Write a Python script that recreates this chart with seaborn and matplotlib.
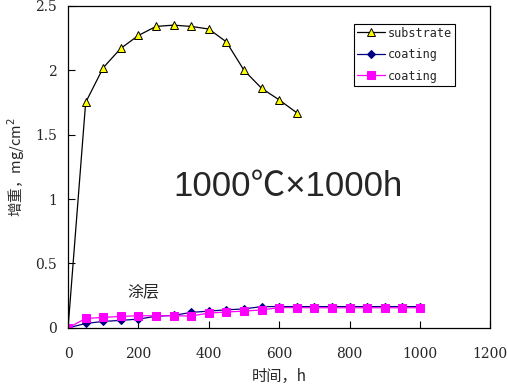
import pandas as pd
import numpy as np
import matplotlib
matplotlib.use("Agg")
import matplotlib.pyplot as plt
import seaborn as sns

# data
t_sub = [0, 50, 100, 150, 200, 250, 300, 350, 400, 450, 500, 550, 600, 650]
w_sub = [0, 1.75, 2.02, 2.17, 2.27, 2.34, 2.35, 2.34, 2.32, 2.22, 2.0, 1.86, 1.77, 1.67]

t_coat = [0, 50, 100, 150, 200, 250, 300, 350, 400, 450, 500, 550, 600, 650, 700,
          750, 800, 850, 900, 950, 1000]
w_coat1 = [0, 0.034, 0.05, 0.058, 0.068, 0.09, 0.097, 0.12, 0.13, 0.14, 0.147, 0.165,
           0.165, 0.165, 0.165, 0.165, 0.165, 0.165, 0.165, 0.165, 0.165]
w_coat2 = [0, 0.073, 0.081, 0.089, 0.094, 0.094, 0.094, 0.092, 0.115, 0.123, 0.13, 0.139,
           0.157, 0.157, 0.156, 0.156, 0.156, 0.156, 0.156, 0.156, 0.156]

x_ticks = [0, 200, 400, 600, 800, 1000, 1200]
y_ticks = [0, 0.5, 1, 1.5, 2, 2.5]
y_ticklabels = ["0", "0.5", "1", "1.5", "2", "2.5"]

sns.set_style("white")
plt.rcParams['font.family'] = ['Noto Sans CJK SC', 'DejaVu Sans']

fig = plt.figure(figsize=(5.08, 3.88), dpi=100)
ax = fig.add_axes([0.134, 0.155, 0.831, 0.830])

sns.lineplot(x=t_sub, y=w_sub, ax=ax, color="black", lw=0.9, marker="^",
             markersize=6, markerfacecolor="#ffff00", markeredgecolor="black",
             markeredgewidth=0.7, label="substrate")
sns.lineplot(x=t_coat, y=w_coat1, ax=ax, color="#000080", lw=0.9, marker="D",
             markersize=4.5, markerfacecolor="#000080", markeredgecolor="#000080",
             label="coating")
sns.lineplot(x=t_coat, y=w_coat2, ax=ax, color="#ff00ff", lw=0.9, marker="s",
             markersize=5.5, markerfacecolor="#ff00ff", markeredgecolor="#ff00ff",
             label="coating")

ax.set_xlim(0, 1200)
ax.set_ylim(0, 2.5)
ax.set_xticks(x_ticks)
ax.set_xticklabels([str(v) for v in x_ticks], family="DejaVu Serif", fontsize=10)
ax.set_yticks(y_ticks)
ax.set_yticklabels(y_ticklabels, family="DejaVu Serif", fontsize=10)
ax.tick_params(axis="both", direction="in", length=5, width=0.8, color="black",
               bottom=True, left=True, top=False, right=False)
ax.tick_params(axis="x", pad=14)
ax.tick_params(axis="y", pad=8)

for s in ax.spines.values():
    s.set_color("black")
    s.set_linewidth(0.9)

ax.set_xlabel("时间，h", fontsize=11, labelpad=5)
ax.set_ylabel("增重，mg/cm$^2$", fontsize=10.5, labelpad=6)

ax.text(625, 1.1, "1000℃×1000h", fontsize=25, ha="center", va="center",
        family=["Liberation Sans", "Noto Sans CJK SC"])
ax.text(215, 0.28, "涂层", fontsize=11.5, ha="center", va="center")

leg = ax.legend(loc="upper right", bbox_to_anchor=(0.93, 0.963), frameon=True,
                fancybox=False, edgecolor="black", framealpha=1,
                prop={"family": "DejaVu Sans Mono", "size": 8.5},
                handlelength=2.4, borderpad=0.25, labelspacing=0.72, handletextpad=0.2)
leg.get_frame().set_linewidth(0.8)

plt.savefig("out.png", dpi=100)
